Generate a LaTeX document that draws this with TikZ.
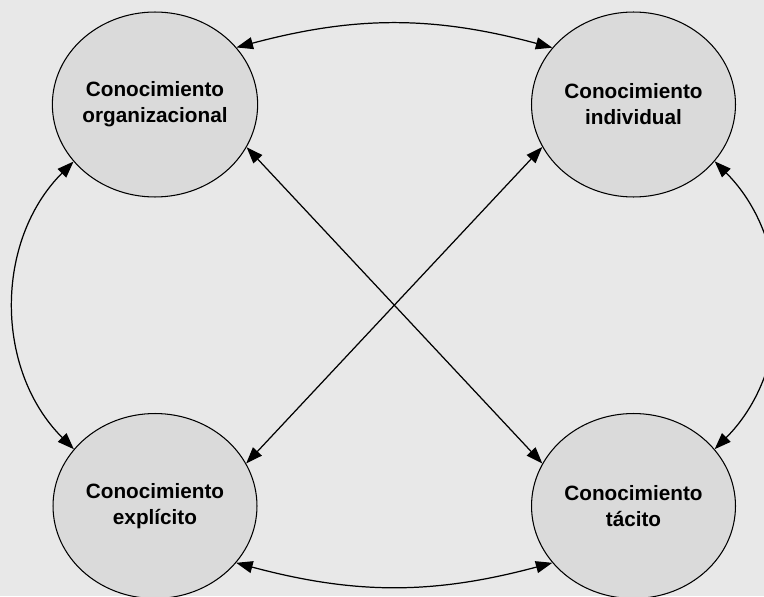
\documentclass[tikz,border=0pt]{standalone}
\usepackage{fontspec}
\setsansfont{Liberation Sans}
\usetikzlibrary{positioning,arrows.meta,shapes.geometric}
\definecolor{paper}{HTML}{E8E8E8}
\definecolor{bubble}{HTML}{DADADA}

\begin{document}
\begin{tikzpicture}[
  x=0.02cm, y=0.02cm,
  every node/.style={font=\sffamily\bfseries\fontsize{11.8}{14.8}\selectfont},
  topic/.style={
    ellipse, draw=black, fill=bubble, line width=0.6pt,
    minimum width=4.08cm, minimum height=3.7cm,
    inner sep=0pt, align=center,
  },
  link/.style={
    arrows={Triangle[length=3.3mm,width=2.4mm]-Triangle[length=3.3mm,width=2.4mm]},
    line width=0.7pt,
  },
]
  \clip (0,0) rectangle (764,596);
  \fill[paper] (0,0) rectangle (764,596);

  \node[topic] (org)  at (155,491.5)   {Conocimiento\\organizacional};
  \node[topic] (ind)  at (633.5,491.5) {Conocimiento\\individual};
  \node[topic] (expl) at (155,90)      {Conocimiento\\explícito};
  \node[topic] (tac)  at (633.5,90)    {Conocimiento\\tácito};

  % outer ring
  \draw[link] (org.35)   to[bend left=15]  (ind.145);
  \draw[link] (expl.-35) to[bend right=15] (tac.-145);
  \draw[link] (org.-145) to[bend right=45] (expl.145);
  \draw[link] (ind.-35)  to[bend left=45]  (tac.35);

  % cross
  \draw[link] (org.-25)  -- (tac.155);
  \draw[link] (ind.-155) -- (expl.25);
\end{tikzpicture}
\end{document}
